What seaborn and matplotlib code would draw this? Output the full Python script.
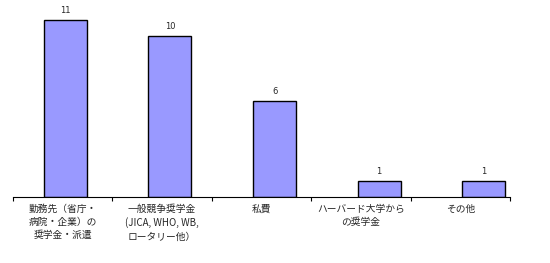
import matplotlib
matplotlib.use("Agg")
import matplotlib.pyplot as plt
import seaborn as sns
import pandas as pd
import numpy as np

categories = [
    "勤務先（省庁・\n病院・企業）の\n奨学金・派遣",
    "一般競争奨学金\n(JICA, WHO, WB,\nロータリー他）",
    "私費",
    "ハーバード大学から\nの奨学金",
    "その他",
]
values = [11, 10, 6, 1, 1]

sns.set_style("white")
plt.rcParams['font.family'] = ['Noto Sans CJK JP', 'DejaVu Sans']

df = pd.DataFrame({"cat": categories, "val": values})

fig = plt.figure(figsize=(5.5, 2.63), dpi=100)
ax = fig.add_axes([13/550, 66/263, 497/550, 193/263])
sns.barplot(data=df, x="cat", y="val", color="#9999FF", edgecolor="black",
            linewidth=1.0, width=0.41, saturation=1, ax=ax)

for i, v in enumerate(values):
    ax.text(i, v + 0.3, str(v), ha="center", va="bottom", fontsize=6,
            family=['DejaVu Sans'])

n = len(categories)
step = 0.95
ax.set_xlim(-0.5, -0.5 + step * n)
ax.set_ylim(0, 12)
bounds = [-0.5 + step * i for i in range(n + 1)]
centers = [-0.5 + step * (i + 0.5) for i in range(n)]
ax.set_xticks(bounds)
ax.set_xticklabels([""] * len(bounds))
ax.set_xticks(centers, minor=True)
ax.set_xticklabels(categories, minor=True, fontsize=7, linespacing=1.4)
ax.tick_params(axis="x", which="major", length=3, width=0.8, color="black",
               direction="out", bottom=True)
ax.tick_params(axis="x", which="minor", length=0, pad=5)
ax.set_yticks([])
ax.set_xlabel("")
ax.set_ylabel("")
for s in ["left", "right", "top"]:
    ax.spines[s].set_visible(False)
ax.spines["bottom"].set_color("black")
ax.spines["bottom"].set_linewidth(0.8)

fig.savefig("out.png", dpi=100)
